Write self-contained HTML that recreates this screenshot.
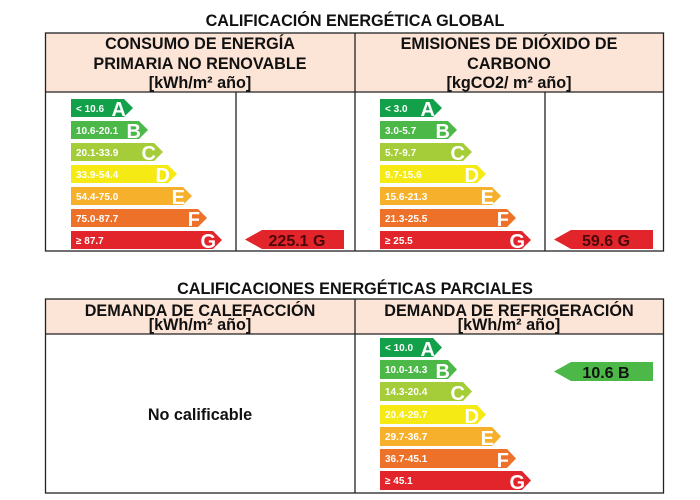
<!DOCTYPE html>
<html><head><meta charset="utf-8"><style>
html,body{margin:0;padding:0;background:#fff;}
svg{display:block;font-family:"Liberation Sans",Arial,sans-serif;font-weight:bold;}
.h{font-size:16.2px;fill:#111;text-anchor:middle;}
.v{font-size:16px;text-anchor:middle;}
.r{font-size:10px;fill:#fff;}
.l{font-size:20px;fill:#fff;text-anchor:end;}
</style></head><body>
<svg width="700" height="500" viewBox="0 0 700 500" xmlns="http://www.w3.org/2000/svg">
<text x="355" y="26" class="h">CALIFICACIÓN ENERGÉTICA GLOBAL</text>
<rect x="45.5" y="33" width="618" height="59" fill="#fce4d6"/>
<rect x="45.5" y="33" width="618" height="218" fill="none" stroke="#222" stroke-width="1.3"/>
<line x1="45" y1="92" x2="664" y2="92" stroke="#222" stroke-width="1.3"/>
<line x1="355" y1="33" x2="355" y2="251" stroke="#222" stroke-width="1.3"/>
<line x1="236" y1="92" x2="236" y2="251" stroke="#222" stroke-width="1.3"/>
<line x1="545" y1="92" x2="545" y2="251" stroke="#222" stroke-width="1.3"/>
<text x="200" y="49" class="h">CONSUMO DE ENERGÍA</text>
<text x="200" y="69" class="h">PRIMARIA NO RENOVABLE</text>
<text x="200" y="88" class="h">[kWh/m² año]</text>
<text x="509" y="49" class="h">EMISIONES DE DIÓXIDO DE</text>
<text x="509" y="69" class="h">CARBONO</text>
<text x="509" y="88" class="h">[kgCO2/ m² año]</text>

<polygon points="71,99 124,99 133,108 124,117 71,117" fill="#13a04a"/>
<polygon points="71,121 139,121 148,130 139,139 71,139" fill="#4cb848"/>
<polygon points="71,143 154,143 163,152 154,161 71,161" fill="#a5cd39"/>
<polygon points="71,165 168,165 177,174 168,183 71,183" fill="#f5ea14"/>
<polygon points="71,187 183,187 192,196 183,205 71,205" fill="#f6b02b"/>
<polygon points="71,209 198,209 207,218 198,227 71,227" fill="#ee712a"/>
<polygon points="71,231 213,231 222,240 213,249 71,249" fill="#e2242b"/>
<text x="76" y="112" class="r">&lt; 10.6</text><text x="126" y="116" class="l">A</text>
<text x="76" y="134" class="r">10.6-20.1</text><text x="141" y="138" class="l">B</text>
<text x="76" y="156" class="r">20.1-33.9</text><text x="156" y="160" class="l">C</text>
<text x="76" y="178" class="r">33.9-54.4</text><text x="170" y="182" class="l">D</text>
<text x="76" y="200" class="r">54.4-75.0</text><text x="185" y="204" class="l">E</text>
<text x="76" y="222" class="r">75.0-87.7</text><text x="200" y="226" class="l">F</text>
<text x="76" y="244" class="r">≥ 87.7</text><text x="216" y="248" class="l">G</text>
<polygon points="245,239.5 262,230 344,230 344,249 262,249" fill="#e2242b"/>
<text x="297" y="246" class="v" style="fill:#4a0808">225.1 G</text>

<polygon points="380,99 433,99 442,108 433,117 380,117" fill="#13a04a"/>
<polygon points="380,121 448,121 457,130 448,139 380,139" fill="#4cb848"/>
<polygon points="380,143 463,143 472,152 463,161 380,161" fill="#a5cd39"/>
<polygon points="380,165 477,165 486,174 477,183 380,183" fill="#f5ea14"/>
<polygon points="380,187 492,187 501,196 492,205 380,205" fill="#f6b02b"/>
<polygon points="380,209 507,209 516,218 507,227 380,227" fill="#ee712a"/>
<polygon points="380,231 522,231 531,240 522,249 380,249" fill="#e2242b"/>
<text x="385" y="112" class="r">&lt; 3.0</text><text x="435" y="116" class="l">A</text>
<text x="385" y="134" class="r">3.0-5.7</text><text x="450" y="138" class="l">B</text>
<text x="385" y="156" class="r">5.7-9.7</text><text x="465" y="160" class="l">C</text>
<text x="385" y="178" class="r">9.7-15.6</text><text x="479" y="182" class="l">D</text>
<text x="385" y="200" class="r">15.6-21.3</text><text x="494" y="204" class="l">E</text>
<text x="385" y="222" class="r">21.3-25.5</text><text x="509" y="226" class="l">F</text>
<text x="385" y="244" class="r">≥ 25.5</text><text x="525" y="248" class="l">G</text>
<polygon points="554,239.5 571,230 653,230 653,249 571,249" fill="#e2242b"/>
<text x="606" y="246" class="v" style="fill:#4a0808">59.6 G</text>

<text x="355" y="294" class="h">CALIFICACIONES ENERGÉTICAS PARCIALES</text>
<rect x="45.5" y="299" width="618" height="35" fill="#fce4d6"/>
<rect x="45.5" y="299" width="618" height="194" fill="none" stroke="#222" stroke-width="1.3"/>
<line x1="45" y1="334" x2="664" y2="334" stroke="#222" stroke-width="1.3"/>
<line x1="355" y1="299" x2="355" y2="493" stroke="#222" stroke-width="1.3"/>
<text x="200" y="316" class="h">DEMANDA DE CALEFACCIÓN</text>
<text x="200" y="330" class="h">[kWh/m² año]</text>
<text x="509" y="316" class="h">DEMANDA DE REFRIGERACIÓN</text>
<text x="509" y="330" class="h">[kWh/m² año]</text>
<text x="200" y="420" class="h">No calificable</text>

<polygon points="380,338 433,338 442,347.5 433,357 380,357" fill="#13a04a"/>
<polygon points="380,360 448,360 457,369.5 448,379 380,379" fill="#4cb848"/>
<polygon points="380,382 463,382 472,391.5 463,401 380,401" fill="#a5cd39"/>
<polygon points="380,405 477,405 486,414.5 477,424 380,424" fill="#f5ea14"/>
<polygon points="380,427 492,427 501,436.5 492,446 380,446" fill="#f6b02b"/>
<polygon points="380,449 507,449 516,458.5 507,468 380,468" fill="#ee712a"/>
<polygon points="380,471 522,471 531,480.5 522,490 380,490" fill="#e2242b"/>
<text x="385" y="351" class="r">&lt; 10.0</text><text x="435" y="356" class="l">A</text>
<text x="385" y="373" class="r">10.0-14.3</text><text x="450" y="378" class="l">B</text>
<text x="385" y="395" class="r">14.3-20.4</text><text x="465" y="400" class="l">C</text>
<text x="385" y="418" class="r">20.4-29.7</text><text x="479" y="423" class="l">D</text>
<text x="385" y="440" class="r">29.7-36.7</text><text x="494" y="445" class="l">E</text>
<text x="385" y="462" class="r">36.7-45.1</text><text x="509" y="467" class="l">F</text>
<text x="385" y="484" class="r">≥ 45.1</text><text x="525" y="489" class="l">G</text>
<polygon points="554,371.5 571,362 653,362 653,381 571,381" fill="#4cb848"/>
<text x="606" y="378" class="v" style="fill:#111">10.6 B</text>
</svg>
</body></html>
